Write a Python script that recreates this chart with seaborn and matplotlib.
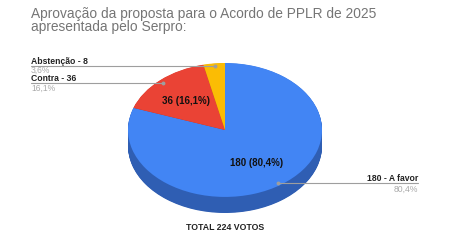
import matplotlib
matplotlib.use("Agg")
import matplotlib.pyplot as plt
import seaborn as sns
import numpy as np

sns.set_theme(style="white")
plt.rcParams['font.family'] = ['Liberation Sans', 'DejaVu Sans']

categories = ["A favor", "Contra", "Abstenção"]
votes = [180, 36, 8]
pct_labels = ["80,4%", "16,1%", "3,6%"]
top_colors = ["#4285F4", "#EA4335", "#FBBC04"]
side_colors = ["#2F5EB3", "#A8302A", "#B58A05"]
title = "Aprovação da proposta para o Acordo de PPLR de 2025\napresentada pelo Serpro:"
total_label = "TOTAL 224 VOTOS"

W, H = 450, 240
fig = plt.figure(figsize=(4.5, 2.4), dpi=100)

# pie axes: elliptical pie (tilted)
depth = 0.24
pie_ax = fig.add_axes([128 / W, (H - 213) / H, 194 / W, 150 / H])
n_layers = 30
for k in np.linspace(depth, 0.005, n_layers):
    pie_ax.pie(votes, colors=side_colors, startangle=90, counterclock=False,
               center=(0, -k), radius=1, wedgeprops=dict(linewidth=0))
pie_ax.pie(votes, colors=top_colors, startangle=90, counterclock=False,
           center=(0, 0), radius=1, wedgeprops=dict(linewidth=0))
pie_ax.set_xlim(-1, 1)
pie_ax.set_ylim(-1 - depth, 1)
pie_ax.set_aspect('auto')
pie_ax.axis('off')

# overlay axes in pixel coordinates
ov = fig.add_axes([0, 0, 1, 1], facecolor='none')
ov.set_xlim(0, W)
ov.set_ylim(H, 0)
ov.axis('off')

ov.text(31, 7, title, fontsize=9.9, color="#757575", va='top', ha='left',
        linespacing=0.95)

grey_line = "#9E9E9E"
dark = "#222222"
light = "#AAAAAA"
fs = 6.2

# Abstenção
ov.text(31, 64, f"{categories[2]} - {votes[2]}", fontsize=fs, fontweight='bold',
        color=dark, ha='left', va='baseline')
ov.plot([31, 215], [66, 66], color=grey_line, lw=0.8)
ov.plot([215], [66], 'o', color=grey_line, ms=1.8)
ov.text(31, 73, pct_labels[2], fontsize=fs, color=light, ha='left', va='baseline')

# Contra
ov.text(31, 81, f"{categories[1]} - {votes[1]}", fontsize=fs, fontweight='bold',
        color=dark, ha='left', va='baseline')
ov.plot([31, 163], [83, 83], color=grey_line, lw=0.8)
ov.plot([163], [83], 'o', color=grey_line, ms=1.8)
ov.text(31, 91, pct_labels[1], fontsize=fs, color=light, ha='left', va='baseline')

# A favor
ov.text(418, 181, f"{votes[0]} - {categories[0]}", fontsize=fs, fontweight='bold',
        color=dark, ha='right', va='baseline')
ov.plot([278, 418], [183, 183], color=grey_line, lw=0.8)
ov.plot([278], [183], 'o', color=grey_line, ms=1.8)
ov.text(418, 192, pct_labels[0], fontsize=fs, color=light, ha='right', va='baseline')

# inner labels
ov.text(186, 101, f"{votes[1]} ({pct_labels[1]})", fontsize=7, fontweight='bold',
        color="#111111", ha='center', va='center')
ov.text(257, 163, f"{votes[0]} ({pct_labels[0]})", fontsize=7, fontweight='bold',
        color="#111111", ha='center', va='center')

ov.text(225, 228, total_label, fontsize=6.3, fontweight='bold', color="#222222",
        ha='center', va='center')

fig.savefig("out.png", dpi=100, facecolor='white')
